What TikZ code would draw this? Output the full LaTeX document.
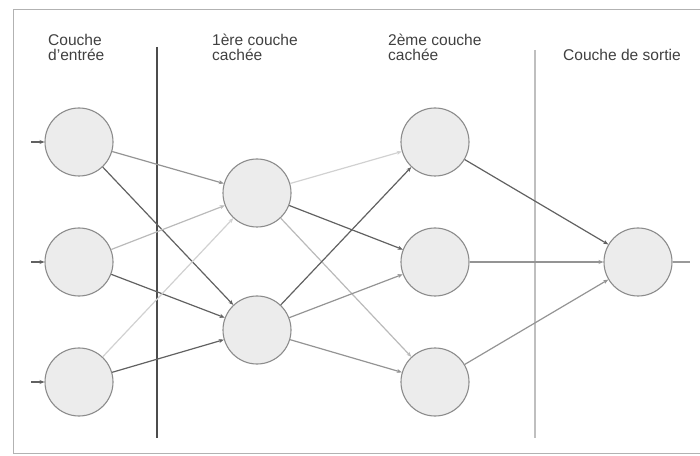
\documentclass[tikz,border=0pt]{standalone}
\usepackage{fontspec}
\setmainfont{Liberation Sans}
\usetikzlibrary{arrows.meta}

\begin{document}
\begin{tikzpicture}[
        x=1bp, y=-1bp,
        neuron/.style={circle, draw=black!45, line width=1.1bp, fill=gray!15, minimum size=68bp, inner sep=0pt},
        layer/.style={anchor=base west, align=left, inner sep=0pt, text=black!75, font=\fontsize{15.6}{16}\selectfont},
        link/.style={line width=1.2bp, -{Stealth[length=5bp,width=4bp]}},
        wdark/.style={link, draw=black!62},
        wmid/.style={link, draw=black!42},
        wlight/.style={link, draw=black!27},
        wfaint/.style={link, draw=black!18}]

    \useasboundingbox (0,0) rectangle (700,456);
    \draw[black!30, line width=1bp] (720,10) -- (13,10) -- (13,453) -- (720,453);

    \node [layer] (lin)  at (48,61)  {Couche\\d'entrée};
    \node [layer] (lh1)  at (212,61) {1ère couche\\cachée};
    \node [layer] (lh2)  at (388,61) {2ème couche\\cachée};
    \node [layer] (lout) at (563,61) {Couche de sortie};

    \coordinate (sepa1) at (157,47);
    \coordinate (sepa2) at (157,438);
    \coordinate (sepb1) at (535,50);
    \coordinate (sepb2) at (535,438);
    \draw[black!70, line width=2.6bp] (sepa1) -- (sepa2);
    \draw[black!25, line width=1.6bp] (sepb1) -- (sepb2);

    \node [neuron] (in1) at (79,142) {};
    \node [neuron] (in2) at (79,262) {};
    \node [neuron] (in3) at (79,382) {};
    \node [neuron] (ha) at (257,193) {};
    \node [neuron] (hb) at (257,330) {};
    \node [neuron] (ka) at (435,142) {};
    \node [neuron] (kb) at (435,262) {};
    \node [neuron] (kc) at (435,382) {};
    \node [neuron] (out) at (638,262) {};

    \foreach \n/\y in {in1/142, in2/262, in3/382} {
        \coordinate (src-\n) at (31,\y);
        \draw[wdark] (src-\n) -- (\n);
    }
    \coordinate (sink) at (690,262);
    \draw[black!40, line width=1.2bp] (out) -- (sink);

    \draw[wmid]   (in1) -- (ha);
    \draw[wdark]  (in1) -- (hb);
    \draw[wlight] (in2) -- (ha);
    \draw[wdark]  (in2) -- (hb);
    \draw[wfaint] (in3) -- (ha);
    \draw[wdark]  (in3) -- (hb);

    \draw[wfaint] (ha) -- (ka);
    \draw[wdark]  (ha) -- (kb);
    \draw[wlight] (ha) -- (kc);
    \draw[wdark]  (hb) -- (ka);
    \draw[wmid]   (hb) -- (kb);
    \draw[wmid]   (hb) -- (kc);

    \draw[wdark]  (ka) -- (out);
    \draw[wmid]   (kb) -- (out);
    \draw[wmid]   (kc) -- (out);
\end{tikzpicture}
\end{document}
